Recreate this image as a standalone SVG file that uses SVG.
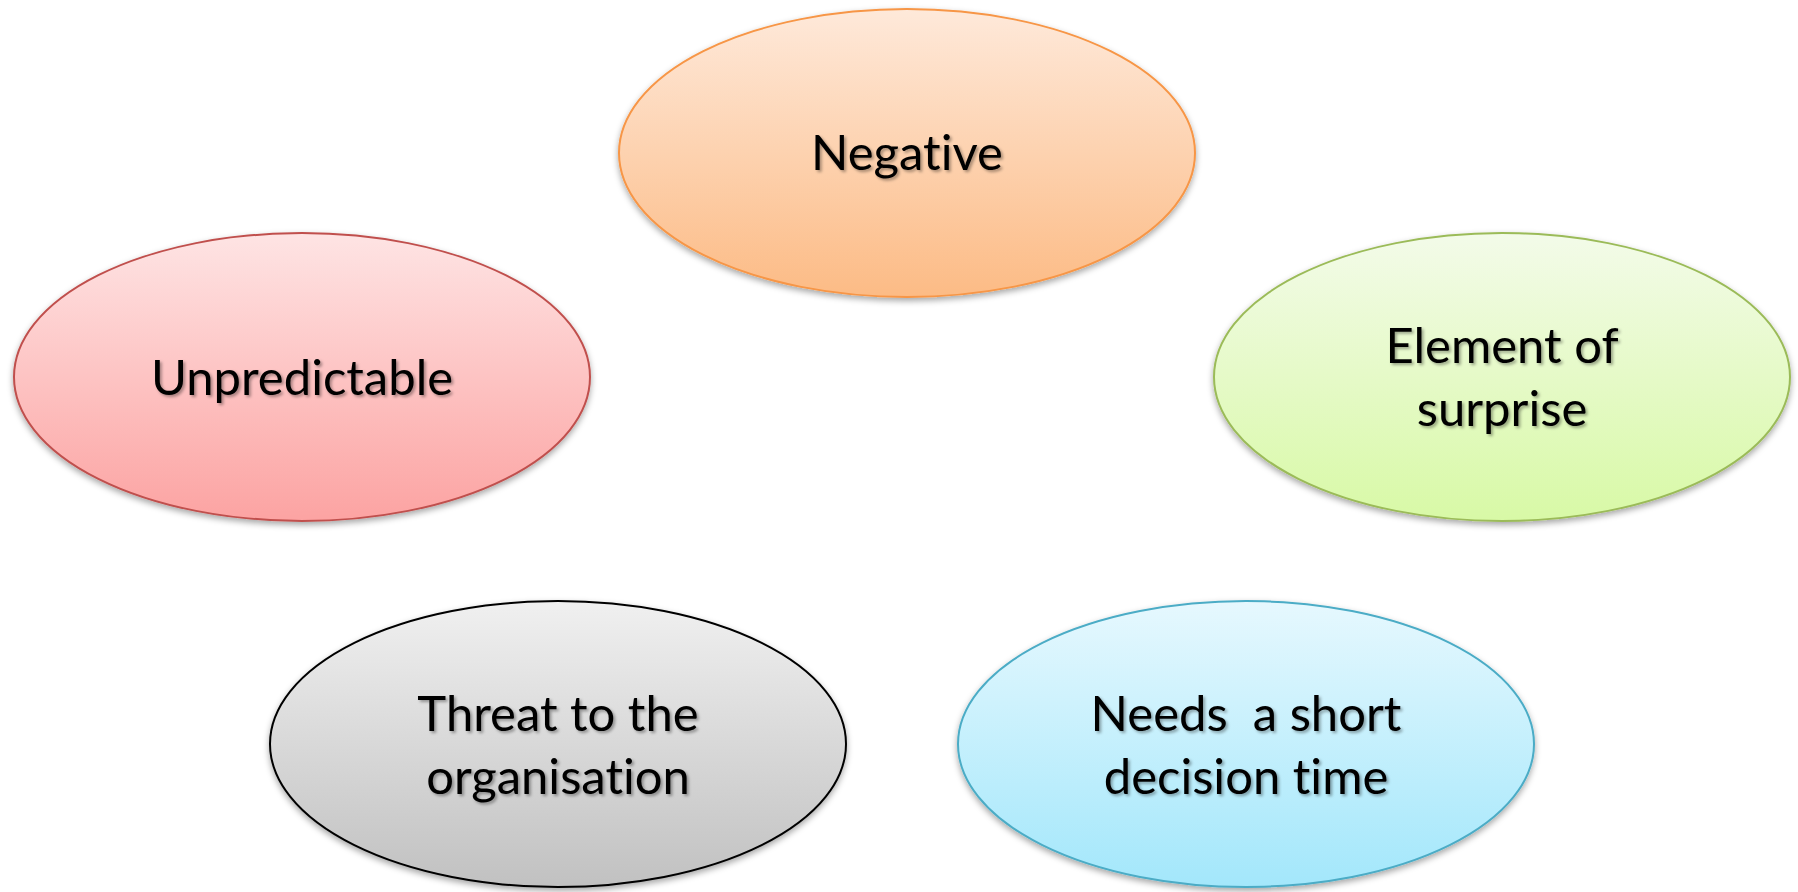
<svg xmlns="http://www.w3.org/2000/svg" width="1798" height="892" viewBox="0 0 1798 892">
  <defs>
    <linearGradient id="gOrange" x1="0" y1="0" x2="0" y2="1">
      <stop offset="0" stop-color="#FEE9DA"/>
      <stop offset="1" stop-color="#FCBB85"/>
    </linearGradient>
    <linearGradient id="gRed" x1="0" y1="0" x2="0" y2="1">
      <stop offset="0" stop-color="#FEE4E4"/>
      <stop offset="1" stop-color="#FCA3A2"/>
    </linearGradient>
    <linearGradient id="gGreen" x1="0" y1="0" x2="0" y2="1">
      <stop offset="0" stop-color="#F3FBE9"/>
      <stop offset="1" stop-color="#D8F9A6"/>
    </linearGradient>
    <linearGradient id="gGray" x1="0" y1="0" x2="0" y2="1">
      <stop offset="0" stop-color="#F0F0F0"/>
      <stop offset="1" stop-color="#C1C1C1"/>
    </linearGradient>
    <linearGradient id="gBlue" x1="0" y1="0" x2="0" y2="1">
      <stop offset="0" stop-color="#E6F8FE"/>
      <stop offset="1" stop-color="#A3E7FB"/>
    </linearGradient>
    <filter id="shapeShadow" x="-10%" y="-10%" width="120%" height="130%">
      <feDropShadow dx="0" dy="3" stdDeviation="3" flood-color="#000" flood-opacity="0.35"/>
    </filter>
    <filter id="textShadow" x="-10%" y="-20%" width="120%" height="150%">
      <feDropShadow dx="2" dy="2" stdDeviation="1.5" flood-color="#000" flood-opacity="0.35"/>
    </filter>
  </defs>
  <style>
    .shape { stroke-width: 2; filter: url(#shapeShadow); }
    .label { font-family: Lato, "Open Sans", "Liberation Sans", sans-serif; font-size: 49px; fill: #000; text-anchor: middle; white-space: pre; font-variant-ligatures: none; filter: url(#textShadow); }
  </style>

  <rect width="1798" height="892" fill="#FFFFFF"/>

  <g id="connectors"/>

  <g id="node-negative">
    <ellipse class="shape" cx="907" cy="153" rx="288" ry="144" fill="url(#gOrange)" stroke="#F79646"/>
    <text class="label" x="907" y="170">Negative</text>
  </g>

  <g id="node-unpredictable">
    <ellipse class="shape" cx="302" cy="377" rx="288" ry="144" fill="url(#gRed)" stroke="#C0504D"/>
    <text class="label" x="302" y="395">Unpredictable</text>
  </g>

  <g id="node-surprise">
    <ellipse class="shape" cx="1502" cy="377" rx="288" ry="144" fill="url(#gGreen)" stroke="#9BBB59"/>
    <text class="label" x="1502" y="363">Element of</text>
    <text class="label" x="1502" y="426">surprise</text>
  </g>

  <g id="node-threat">
    <ellipse class="shape" cx="558" cy="744" rx="288" ry="143" fill="url(#gGray)" stroke="#000000"/>
    <text class="label" x="558" y="731">Threat to the</text>
    <text class="label" x="558" y="794">organisation</text>
  </g>

  <g id="node-decision">
    <ellipse class="shape" cx="1246" cy="744" rx="288" ry="143" fill="url(#gBlue)" stroke="#4BACC6"/>
    <text class="label" x="1246" y="731">Needs  a short</text>
    <text class="label" x="1246" y="794">decision time</text>
  </g>
</svg>
